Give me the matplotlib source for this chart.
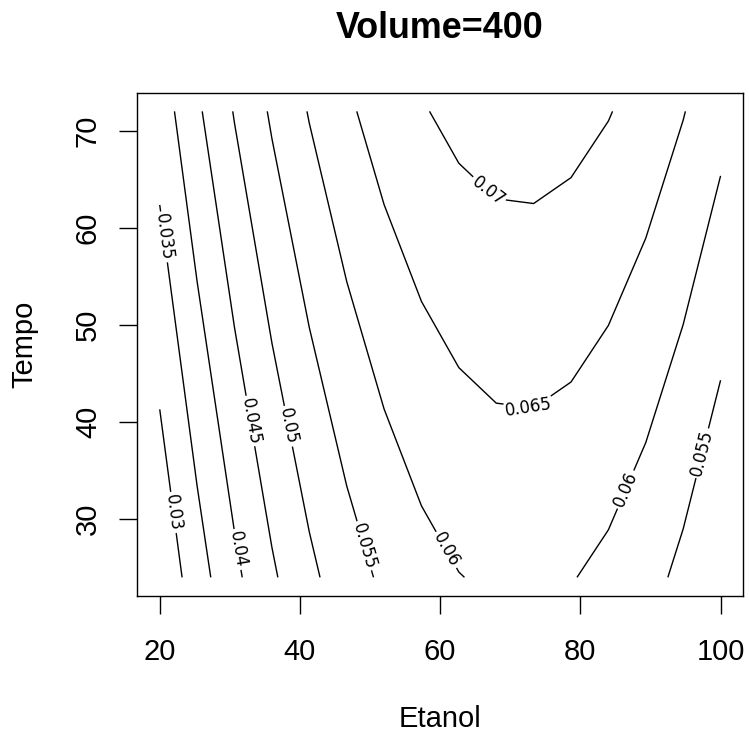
import numpy as np
import matplotlib
matplotlib.use("Agg")
import matplotlib.pyplot as plt

# ---- data (response-surface slice at Volume=400) ----
etanol_range = [20, 100]
tempo_range = [24, 72]
grid_n = 16
# fitted quadratic model: z = b0 + bE*E + bT*T + bEE*E^2
b0 = -0.012282
bE = 0.0018876
bT = 0.0002375
bEE = -1.32e-5
levels = [0.03, 0.035, 0.04, 0.045, 0.05, 0.055, 0.06, 0.065, 0.07]
xticks = [20, 40, 60, 80, 100]
yticks = [30, 40, 50, 60, 70]
title = "Volume=400"
xlabel = "Etanol"
ylabel = "Tempo"

# label positions (Etanol, Tempo)
label_pos = [(22.1, 30.7), (21.0, 59.1), (31.3, 26.9), (32.9, 40.1), (38.6, 39.6),
             (49.4, 27.3), (60.8, 26.8), (72.8, 42.3), (67.8, 64.5),
             (86.6, 33.0), (97.3, 36.8)]

E = np.linspace(etanol_range[0], etanol_range[1], grid_n)
T = np.linspace(tempo_range[0], tempo_range[1], grid_n)
EE, TT = np.meshgrid(E, T)
Z = b0 + bE * EE + bT * TT + bEE * EE ** 2

W, H = 749, 735
fig = plt.figure(figsize=(W / 100, H / 100), dpi=100)
left, right, bottom, top = 137.3, 743, 596, 92.7
ax = fig.add_axes([left / W, 1 - bottom / H, (right - left) / W, (bottom - top) / H])

cs = ax.contour(EE, TT, Z, levels=levels, colors="k", linewidths=1.0)
lbls = ax.clabel(cs, levels, inline=True, inline_spacing=4, fontsize=12,
                 fmt=lambda v: f"{v:g}", manual=label_pos)
for t in lbls:
    t.set_fontfamily("DejaVu Sans")

span_x = etanol_range[1] - etanol_range[0]
span_y = tempo_range[1] - tempo_range[0]
ax.set_xlim(etanol_range[0] - 0.04 * span_x, etanol_range[1] + 0.04 * span_x)
ax.set_ylim(tempo_range[0] - 0.04 * span_y, tempo_range[1] + 0.04 * span_y)

ax.set_xticks(xticks)
ax.set_yticks(yticks)
fam = ["Liberation Sans", "DejaVu Sans"]
ax.tick_params(axis="both", direction="out", length=13, width=1.0, color="k",
               labelsize=21)
ax.tick_params(axis="x", pad=17.5)
ax.tick_params(axis="y", pad=12.5)
for lab in ax.get_xticklabels():
    lab.set_fontfamily(fam)
for lab in ax.get_yticklabels():
    lab.set_fontfamily(fam)
    lab.set_rotation(90)
    lab.set_va("center")
for s in ax.spines.values():
    s.set_linewidth(1.0)
    s.set_color("k")

fig.text(440 / W, 1 - 28 / H, title, ha="center", va="center", fontsize=25.8,
         fontweight="bold", family=fam)
fig.text(440 / W, 1 - 719 / H, xlabel, ha="center", va="center", fontsize=21, family=fam)
fig.text(24 / W, 1 - 344 / H, ylabel, ha="center", va="center", fontsize=21,
         rotation=90, family=fam)

fig.savefig("out.png", dpi=100, facecolor="white")
